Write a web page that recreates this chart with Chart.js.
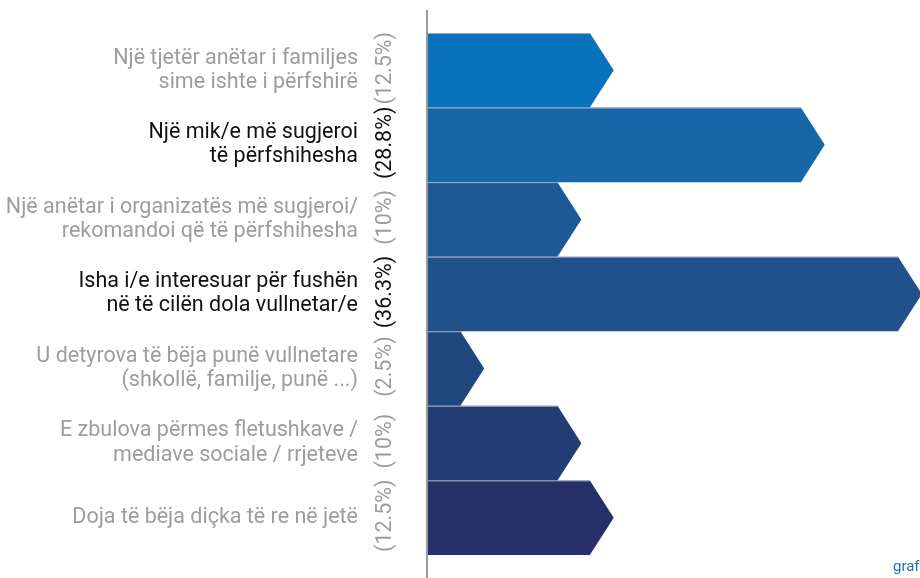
<!DOCTYPE html>
<html>
<head>
<meta charset="utf-8">
<script src="https://cdn.jsdelivr.net/npm/chart.js@4"></script>
<style>
  html, body { margin: 0; padding: 0; background: #fff; }
  #wrap { width: 920px; height: 578px; }
</style>
</head>
<body>
<div id="wrap"><canvas id="myChart"></canvas></div>
<script>
// Data
const categories = [
    ["Një tjetër anëtar i familjes", "sime ishte i përfshirë"],
    ["Një mik/e më sugjeroi", "të përfshihesha"],
    ["Një anëtar i organizatës më sugjeroi/", "rekomandoi që të përfshihesha"],
    ["Isha i/e interesuar për fushën", "në të cilën dola vullnetar/e"],
    ["U detyrova të bëja punë vullnetare", "(shkollë, familje, punë ...)"],
    ["E zbulova përmes fletushkave /", "mediave sociale / rrjeteve"],
    ["Doja të bëja diçka të re në jetë"]
];
const values = [12.5, 28.8, 10, 36.3, 2.5, 10, 12.5];
const percentLabels = ["(12.5%)", "(28.8%)", "(10%)", "(36.3%)", "(2.5%)", "(10%)", "(12.5%)"];
const highlighted = [1, 3];

const barColors = ["#0873ba", "#1766a6", "#1d5a95", "#20518a", "#21477f", "#233c73", "#262f68"];
const GRAY = "#9d9d9d";
const DARK = "#111111";

// draws arrow shaped bars, the axis line and the rotated percentages
const chevronPlugin = {
    id: 'chevrons',
    beforeDatasetDraw(chart, args) {
        const ctx = chart.ctx;
        const meta = args.meta;
        meta.data.forEach((bar, i) => {
            const h = bar.height;
            const top = bar.y - h / 2;
            const bottom = bar.y + h / 2;
            const tip = h * 0.32;
            ctx.save();
            ctx.beginPath();
            ctx.moveTo(bar.base, top);
            ctx.lineTo(bar.x, top);
            ctx.lineTo(bar.x + tip, bar.y);
            ctx.lineTo(bar.x, bottom);
            ctx.lineTo(bar.base, bottom);
            ctx.closePath();
            ctx.fillStyle = barColors[i];
            ctx.fill();
            // thin light edge on top of each bar
            ctx.beginPath();
            ctx.moveTo(bar.base, top + 0.5);
            ctx.lineTo(bar.x, top + 0.5);
            ctx.strokeStyle = "rgba(190,200,215,0.75)";
            ctx.lineWidth = 1;
            ctx.stroke();
            ctx.restore();
        });
        return false;
    },
    afterDraw(chart) {
        const ctx = chart.ctx;
        const area = chart.chartArea;
        const meta = chart.getDatasetMeta(0);
        ctx.save();
        // axis line
        ctx.beginPath();
        ctx.moveTo(area.left - 1, 10);
        ctx.lineTo(area.left - 1, chart.height);
        ctx.strokeStyle = "#9a9a9a";
        ctx.lineWidth = 2;
        ctx.stroke();
        // rotated percentages
        ctx.font = "21.5px Roboto";
        ctx.textAlign = "center";
        ctx.textBaseline = "middle";
        meta.data.forEach((bar, i) => {
            ctx.save();
            ctx.translate(area.left - 42, bar.y - 2);
            ctx.rotate(-Math.PI / 2);
            ctx.fillStyle = highlighted.includes(i) ? DARK : GRAY;
            ctx.fillText(percentLabels[i], 0, 0);
            ctx.restore();
        });
        // source mark, cut off at the edge
        ctx.fillStyle = "#1f6fb5";
        ctx.font = "15px Roboto";
        ctx.textAlign = "left";
        ctx.fillText("graf", 893, 567);
        ctx.restore();
    }
};

const ctx = document.getElementById("myChart").getContext("2d");
new Chart(ctx, {
    type: 'bar',
    data: {
        labels: categories,
        datasets: [{
            data: values,
            backgroundColor: barColors,
            barPercentage: 1,
            categoryPercentage: 1
        }]
    },
    options: {
        indexAxis: 'y',
        responsive: true,
        maintainAspectRatio: false,
        animation: false,
        layout: { padding: { top: 33, bottom: 23, left: 0, right: 0 } },
        plugins: {
            legend: { display: false },
            tooltip: { enabled: false }
        },
        scales: {
            x: {
                display: false,
                min: 0,
                max: 38
            },
            y: {
                afterFit(scale) {
                    scale.width = 428;
                    scale.paddingTop = 0;
                    scale.paddingBottom = 0;
                },
                grid: { display: false, drawTicks: false },
                border: { display: false },
                ticks: {
                    padding: 70,
                    font: { family: "Roboto", size: 21.5, lineHeight: 1.12 },
                    color: (c) => highlighted.includes(c.index) ? DARK : GRAY
                }
            }
        }
    },
    plugins: [chevronPlugin]
});
</script>
</body>
</html>
